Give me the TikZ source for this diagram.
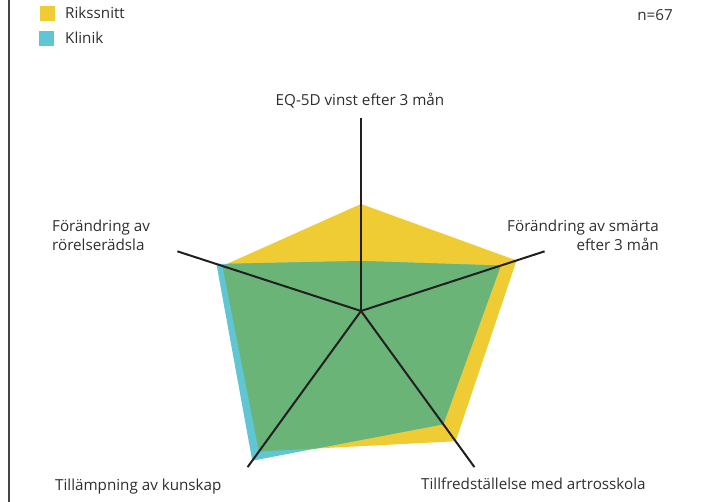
\documentclass[tikz,border=0pt]{standalone}
\usepackage{fontspec}
\setmainfont{Open Sans}
\usetikzlibrary{calc}
\definecolor{riks}{HTML}{EFCC33}
\definecolor{klin}{HTML}{61C6D3}
\definecolor{both}{HTML}{6AB478}
\definecolor{axisc}{HTML}{231F20}
\definecolor{txt}{HTML}{2E2E2E}
\definecolor{framec}{HTML}{444444}
% radar polygons: radii along the five axes (90, 18, -54, -126, 162 degrees)
\newcommand\riksshape{($(c)+(90:107)$) -- ($(c)+(18:163.5)$) -- ($(c)+(-54:161)$) -- ($(c)+(-126:173.6)$) -- ($(c)+(162:145.7)$) -- cycle}
\newcommand\klinshape{($(c)+(90:50)$) -- ($(c)+(18:147)$) -- ($(c)+(-54:140)$) -- ($(c)+(-126:185)$) -- ($(c)+(162:152)$) -- cycle}
\begin{document}
\begin{tikzpicture}[x=1pt,y=1pt,
  lbl/.style={text=txt, font=\fontsize{15.2}{19.5}\selectfont, inner sep=0pt},
  axisline/.style={draw=axisc, line width=2pt},
  keybox/.style={minimum size=15pt, inner sep=0pt}]
\useasboundingbox (0,0) rectangle (707,502);
% left frame line
\draw[framec, line width=1.3pt] (9,0) -- (9,502);
% centre and axis ends
\coordinate (c) at (361,191);
\foreach \n/\a in {a/90,b/18,d/-54,e/-126,f/162}
  \coordinate (ax-\n) at ($(c)+(\a:193)$);
% filled areas
\fill[riks] \riksshape;
\fill[klin] \klinshape;
\begin{scope}
  \clip \riksshape;
  \fill[both] \klinshape;
\end{scope}
% axes
\foreach \n in {a,b,d,e,f}
  \draw[axisline] (c) -- (ax-\n);
% axis labels
\node[lbl, anchor=base] (la) at (360,396) {EQ-5D vinst efter 3 mån};
\node[lbl, anchor=base east, align=right] (lb) at (659,251) {Förändring av smärta\\efter 3 mån};
\node[lbl, anchor=base west] (ld) at (421,12) {Tillfredställelse med artrosskola};
\node[lbl, anchor=base west] (le) at (55,11) {Tillämpning av kunskap};
\node[lbl, anchor=base west, align=left] (lf) at (52,251) {Förändring av\\rörelserädsla};
% legend
\node[keybox, fill=riks, anchor=north west] (k1) at (40,496) {};
\node[lbl, anchor=base west] (t1) at (65,483) {Rikssnitt};
\node[keybox, fill=klin, anchor=north west] (k2) at (39,471) {};
\node[lbl, anchor=base west] (t2) at (65,458) {Klinik};
\node[lbl, anchor=base east] (nn) at (673,481) {n=67};
\end{tikzpicture}
\end{document}
